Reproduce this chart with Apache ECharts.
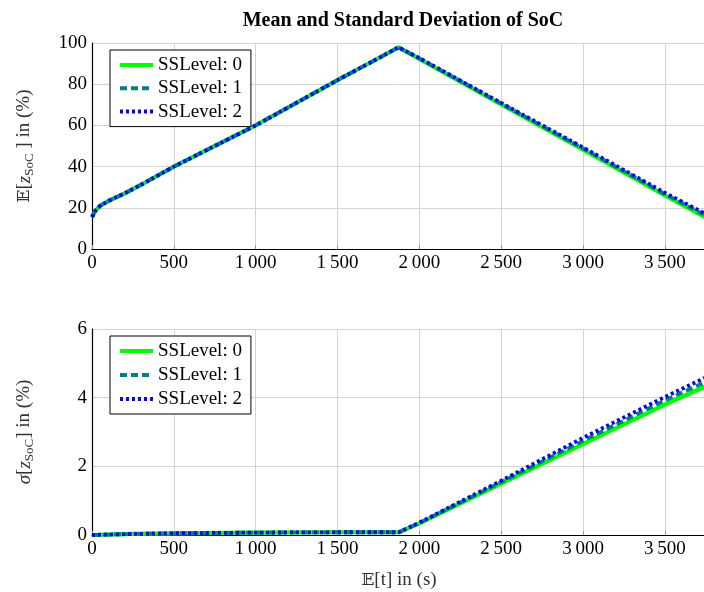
<!DOCTYPE html>
<html>
<head>
<meta charset="utf-8">
<script src="https://cdn.jsdelivr.net/npm/echarts@6/dist/echarts.min.js"></script>
<style>
html,body{margin:0;padding:0;background:#fff;}
#c{width:704px;height:592px;}
</style>
</head>
<body>
<div id="c"></div>
<script>
// ---- data ----
var seriesNames = ['SSLevel: 0', 'SSLevel: 1', 'SSLevel: 2'];
var tMean = [0, 20, 50, 100, 150, 200, 300, 500, 750, 1000, 1250, 1500, 1750, 1872, 2000, 2500, 3000, 3500, 3750];
var mean0 = [15.5, 18.5, 21.0, 23.3, 25.2, 27.0, 31.2, 40.0, 50.0, 60.0, 71.0, 82.0, 92.6, 97.9, 92.3, 70.2, 48.2, 26.0, 15.3];
var mean1 = [15.5, 18.5, 21.0, 23.3, 25.2, 27.0, 31.2, 40.0, 50.0, 60.0, 71.0, 82.0, 92.6, 97.9, 92.5, 70.6, 48.8, 26.7, 16.2];
var mean2 = [15.5, 18.5, 21.0, 23.3, 25.2, 27.0, 31.2, 40.0, 50.0, 60.0, 71.0, 82.0, 92.6, 97.9, 92.7, 70.9, 49.3, 27.3, 17.0];
var tStd = [0, 250, 500, 1000, 1500, 1875, 2000, 2500, 3000, 3500, 3750];
var std0 = [0, 0.03, 0.05, 0.07, 0.08, 0.08, 0.34, 1.50, 2.65, 3.80, 4.33];
var std1 = [0, 0.03, 0.05, 0.07, 0.08, 0.08, 0.35, 1.54, 2.74, 3.92, 4.46];
var std2 = [0, 0.03, 0.05, 0.07, 0.08, 0.08, 0.36, 1.58, 2.83, 4.02, 4.59];
var meanTicks = [0, 20, 40, 60, 80, 100];
var stdTicks = [0, 2, 4, 6];

function pairs(t, v) { return t.map(function (x, i) { return [x, v[i]]; }); }

var FONT = 'Liberation Serif';
var FS = 19;
var lineStyles = [
  {color: '#00ff00', width: 4.2, type: 'solid'},
  {color: '#008080', width: 3.8, type: [7, 4]},
  {color: '#0000ff', width: 3.8, type: [3, 3]}
];

function xAxis(idx, showName) {
  return {
    type: 'value', gridIndex: idx, min: 0, max: 3800, interval: 500,
    axisLine: {show: true, onZero: false, lineStyle: {color: '#000', width: 1.2}},
    axisTick: {show: true, inside: true, length: 4, lineStyle: {color: '#999'}},
    axisLabel: {
      color: '#000', fontFamily: FONT, fontSize: FS, margin: 5, showMaxLabel: false,
      formatter: function (v) { return v >= 1000 ? Math.floor(v / 1000) + '\u2009' + String(v % 1000).padStart(3, '0') : String(v); }
    },
    splitLine: {show: true, lineStyle: {color: '#d4d4d4', width: 1}},
    name: showName ? '{b|\uD835\uDD3C}{n|[t] in (s)}' : '',
    nameLocation: 'middle', nameGap: 36,
    nameTextStyle: {
      color: '#333', fontFamily: FONT, fontSize: FS, padding: [0, 0, 0, -8],
      rich: {b: {fontFamily: 'DejaVu Serif', fontSize: 17, color: '#333'}, n: {fontFamily: FONT, fontSize: FS, color: '#333'}}
    }
  };
}
function yAxis(idx, max, interval, name) {
  return {
    type: 'value', gridIndex: idx, min: 0, max: max, interval: interval,
    axisLine: {show: true, lineStyle: {color: '#000', width: 1.2}},
    axisTick: {show: false},
    axisLabel: {color: '#000', fontFamily: FONT, fontSize: FS, margin: 5},
    splitLine: {show: true, lineStyle: {color: '#d4d4d4', width: 1}},
    name: name, nameLocation: 'middle', nameGap: 56,
    nameTextStyle: {
      color: '#333', fontFamily: FONT, fontSize: FS,
      rich: {
        b: {fontFamily: 'DejaVu Serif', fontSize: 17, color: '#333'},
        i: {fontFamily: FONT, fontStyle: 'italic', fontSize: FS, color: '#333'},
        n: {fontFamily: FONT, fontSize: FS, color: '#333'},
        s: {fontFamily: FONT, fontSize: 13, color: '#333', padding: [10, 0, 0, 0]}
      }
    }
  };
}
function legend(top, gap) {
  return {
    data: seriesNames, left: 110, top: top, orient: 'vertical',
    backgroundColor: '#fff', borderColor: '#000', borderWidth: 1,
    padding: [5, 9, 5, 8], itemWidth: 33, itemHeight: 14, itemGap: gap,
    itemStyle: {opacity: 0},
    lineStyle: {width: 4},
    textStyle: {fontFamily: FONT, fontSize: FS, color: '#000', lineHeight: 20},
    selectedMode: false
  };
}

var series = [];
[mean0, mean1, mean2].forEach(function (v, i) {
  series.push({name: seriesNames[i], type: 'line', xAxisIndex: 0, yAxisIndex: 0, symbol: 'none',
    data: pairs(tMean, v), lineStyle: lineStyles[i], itemStyle: {color: lineStyles[i].color}, z: 2 + i, animation: false});
});
[std0, std1, std2].forEach(function (v, i) {
  series.push({name: seriesNames[i], type: 'line', xAxisIndex: 1, yAxisIndex: 1, symbol: 'none',
    data: pairs(tStd, v), lineStyle: lineStyles[i], itemStyle: {color: lineStyles[i].color}, z: 2 + i, animation: false});
});

var chart = echarts.init(document.getElementById('c'), null, {renderer: 'canvas'});
chart.setOption({
  backgroundColor: '#fff',
  animation: false,
  title: {
    text: 'Mean and Standard Deviation of SoC', left: 398, top: 6, textAlign: 'center',
    textStyle: {fontFamily: FONT, fontWeight: 'bold', fontSize: 20, color: '#000'}
  },
  legend: [legend(50, 3.3), legend(336, 4)],
  grid: [
    {left: 92, top: 43, height: 206, width: 622, outerBoundsMode: 'none', containLabel: false},
    {left: 92, top: 329, height: 206, width: 622, outerBoundsMode: 'none', containLabel: false}
  ],
  xAxis: [xAxis(0, false), xAxis(1, true)],
  yAxis: [
    yAxis(0, 100, 20, '{b|\uD835\uDD3C}{n|[}{i|z}{s|SoC}{n| ] in (%)}'),
    yAxis(1, 6, 2, '{i|\u03C3}{n|[}{i|z}{s|SoC}{n|] in (%)}')
  ],
  series: series
});
</script>
</body>
</html>
